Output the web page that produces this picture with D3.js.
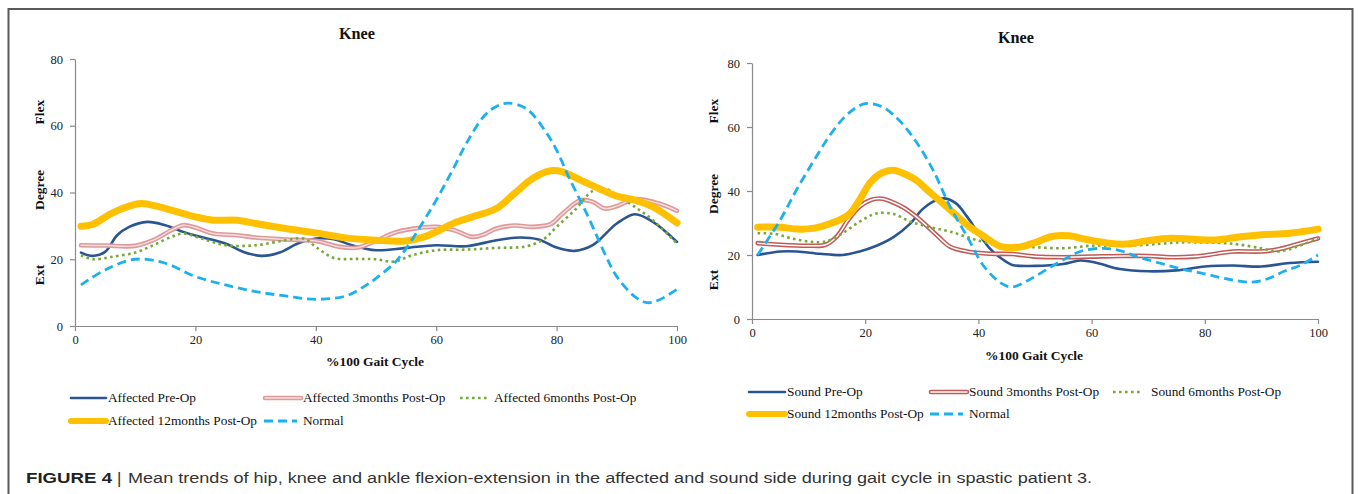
<!DOCTYPE html>
<html>
<head>
<meta charset="utf-8">
<script src="https://cdn.jsdelivr.net/npm/d3@7/dist/d3.min.js"></script>
<style>
  html, body { margin: 0; padding: 0; background: #fff; }
  svg { display: block; }
</style>
</head>
<body>
<svg id="fig" width="1358" height="494"></svg>
<script>
// ---------------- DATA ----------------
const xTicks = [0, 20, 40, 60, 80, 100];
const yTicks = [0, 20, 40, 60, 80];
const chartTitle = "Knee";
const xAxisTitle = "%100 Gait Cycle";
const yAxisWords = ["Flex", "Degree", "Ext"];

// Affected side (left panel): [gait %, degree]
const affectedPreOp = [[1,22],[3,21],[5,22.2],[7,27.2],[9,29.7],[12,31.2],[15,30.2],[18,28.2],[20,27.1],[25,24.7],[28,22.2],[31,21],[34,22],[37,24.7],[40,26.2],[43,26],[46,24.2],[50,22.7],[55,23.4],[60,24.2],[65,23.9],[70,25.7],[74,26.5],[77,25.9],[80,23.5],[83,22.5],[86,24.2],[90,30.7],[93,33.5],[96,31.2],[100,25.2]];
const affected3m = [[1,24.2],[5,24.1],[10,24],[13,25.7],[16,28.7],[18,30.2],[20,29.5],[23,27.7],[27,27.2],[30,26.5],[35,25.9],[40,25.5],[44,23.7],[47,23.5],[50,25.5],[53,27.9],[56,29.1],[60,29.7],[63,28.7],[66,26.7],[68,27.5],[70,29.2],[73,30.1],[76,29.7],[79,30.5],[81,33.7],[84,37.7],[86,37.2],[88,35.2],[90,35.9],[93,38],[97,36.7],[100,34.5]];
const affected6m = [[1,21.2],[3,20],[6,20.7],[10,22],[13,24.2],[16,26.7],[18,27.7],[21,26.2],[25,24.2],[30,24.2],[35,25.7],[38,26.2],[40,23.7],[43,20.4],[47,20.1],[50,20],[53,19.3],[56,21.2],[60,22.7],[65,22.9],[70,23.4],[75,23.9],[78,26.2],[80,29.7],[83,34.7],[86,40.5],[88,41.2],[90,39.2],[93,35.7],[96,31.7],[100,24.7]];
const affected12m = [[1,29.9],[3,30.5],[6,33.7],[9,35.9],[11,36.7],[14,35.7],[17,34.2],[20,32.7],[23,31.7],[27,31.7],[30,30.7],[35,29.2],[40,27.9],[45,26.4],[50,25.7],[55,25.5],[58,26.7],[60,28.2],[63,30.9],[66,32.7],[70,35.2],[73,39.7],[76,44.2],[79,46.5],[81,46.2],[84,43.7],[87,41.2],[90,38.9],[93,37.7],[96,35.7],[100,30.9]];
const affectedNormal = [[1,12.3],[5,16.8],[10,20],[15,18.8],[20,14.8],[25,12.3],[30,10.3],[35,9],[40,8],[45,9],[48,11.8],[50,14.3],[53,18.8],[55,23.2],[58,31.7],[60,37.7],[63,47.7],[65,54.7],[68,63],[70,65.8],[72,66.8],[75,65.1],[78,58.7],[80,52.7],[82,44.7],[85,33.7],[88,21.7],[90,14.8],[93,8.8],[95,7],[97,7.8],[100,11]];

// Sound side (right panel)
const soundPreOp = [[1,20],[5,21.1],[8,21.1],[12,20.4],[16,20],[19,21.1],[22,22.9],[25,25.6],[28,29.9],[30,34.1],[32,36.7],[34,37.7],[36,36.2],[38,32],[40,26.8],[42,22.1],[44,19],[46,16.9],[50,16.6],[55,17.2],[58,18.3],[61,17.5],[65,15.6],[70,14.9],[75,15.2],[80,16.4],[85,16.7],[90,16.4],[95,17.5],[100,17.9]];
const sound3m = [[1,23.7],[5,23.2],[10,22.9],[13,23.2],[15,25.8],[17,31],[19,35.1],[21,37.2],[23,37.6],[25,36.4],[27,34.6],[29,32],[31,28.9],[33,25.6],[35,22.6],[38,21.1],[42,20.4],[46,20.3],[50,19.5],[55,19.3],[60,19.5],[65,19.7],[70,19.7],[74,19.3],[78,19.5],[82,20.4],[85,21.1],[90,21.1],[93,21.8],[96,23.2],[100,25.2]];
const sound6m = [[1,26.8],[4,26.6],[7,25.2],[10,24.2],[13,24.2],[16,26.8],[19,30.4],[22,33],[25,32.8],[28,30.4],[31,28.9],[35,27.3],[40,24.5],[45,22.6],[50,22.4],[55,22.1],[60,22.9],[65,22.9],[70,23.2],[75,23.9],[80,23.9],[85,23.5],[90,22.1],[93,21.1],[96,22.4],[100,25.2]];
const sound12m = [[1,28.7],[5,28.7],[8,28.1],[11,28.4],[14,29.9],[17,32.5],[19,37.2],[21,42.9],[23,45.7],[25,46.5],[27,45.3],[29,43.4],[31,40.3],[33,37.2],[35,34.1],[38,29.4],[41,25.8],[44,22.6],[47,22.4],[50,23.9],[53,25.8],[56,26],[59,24.9],[63,23.7],[66,23.4],[70,24.5],[74,25.2],[78,24.9],[82,24.7],[86,25.6],[90,26.3],[95,26.8],[100,28.1]];
const soundNormal = [[1,20],[5,31],[8,40.8],[11,49.7],[14,58],[17,64.2],[20,67.3],[23,66.3],[26,62.1],[29,55.4],[32,46.5],[35,35.1],[38,25.8],[41,16.4],[44,11.2],[46,10],[49,12.3],[52,15.4],[55,18.5],[58,21.1],[62,22.1],[65,21.4],[68,19.5],[72,17.5],[76,15.6],[80,14.1],[84,12.5],[88,11.5],[91,12.5],[94,14.9],[97,16.9],[100,20]];

const affectedNames = ["Affected Pre-Op", "Affected 3months Post-Op", "Affected 6months Post-Op", "Affected 12months Post-Op", "Normal"];
const soundNames = ["Sound Pre-Op", "Sound 3months Post-Op", "Sound 6months Post-Op", "Sound 12months Post-Op", "Normal"];

const captionBold = "FIGURE 4";
const captionBar = "|";
const captionText = "Mean trends of hip, knee and ankle flexion-extension in the affected and sound side during gait cycle in spastic patient 3.";

// ---------------- STYLES ----------------
const serif = "'Liberation Serif','Times New Roman',Times,serif";
const sans = "'Liberation Sans',Arial,Helvetica,sans-serif";

const svg = d3.select("#fig");

// outer frame
svg.append("rect").attr("x", 8.5).attr("y", 9).attr("width", 1344).attr("height", 500)
  .attr("fill", "none").attr("stroke", "#5a5a5a").attr("stroke-width", 2);

function styleFor(kind, side) {
  switch (kind) {
    case 0: return [{ stroke: "#2a5592", width: 2.6 }];
    case 1: return side === "L"
      ? [{ stroke: "#de9a9a", width: 4.6 }, { stroke: "#f7dede", width: 1.4 }]
      : [{ stroke: "#bf5a56", width: 4.6 }, { stroke: "#ffffff", width: 1.5 }];
    case 2: return [{ stroke: "#77a83a", width: 2.6, dash: "2.6 3.4" }];
    case 3: return [{ stroke: "#ffc000", width: 7 }];
    case 4: return [{ stroke: "#1cb0ee", width: 2.8, dash: "9 5" }];
  }
}

function panel(cfg) {
  const x = d3.scaleLinear().domain([0, 100]).range([cfg.x0, cfg.x1]);
  const y = d3.scaleLinear().domain([0, 80]).range([cfg.y0, cfg.y1]);
  const g = svg.append("g");

  // title
  g.append("text").attr("x", cfg.titleX).attr("y", cfg.titleY)
    .attr("text-anchor", "middle").attr("font-family", serif).attr("font-weight", "bold")
    .attr("font-size", 17).attr("textLength", 36).attr("lengthAdjust", "spacingAndGlyphs")
    .attr("fill", "#111").text(chartTitle);

  // axes
  const xAxis = d3.axisBottom(x).tickValues(xTicks).tickSize(5).tickSizeOuter(0).tickPadding(4);
  const yAxis = d3.axisLeft(y).tickValues(yTicks).tickSize(5).tickSizeOuter(0).tickPadding(7);
  const gx = g.append("g").attr("transform", `translate(0,${cfg.y0})`).call(xAxis);
  const gy = g.append("g").attr("transform", `translate(${cfg.x0},0)`).call(yAxis);
  [gx, gy].forEach(a => {
    a.select(".domain").attr("stroke", "#8a8a8a").attr("stroke-width", 1.2);
    a.selectAll(".tick line").attr("stroke", "#8a8a8a").attr("stroke-width", 1.2);
    a.selectAll(".tick text").attr("font-family", serif).attr("font-size", 12.5).attr("fill", "#222");
  });
  gx.selectAll(".tick text").attr("dy", "0.71em");

  // axis titles
  g.append("text").attr("x", cfg.xtX).attr("y", cfg.xtY).attr("text-anchor", "middle")
    .attr("font-family", serif).attr("font-weight", "bold").attr("font-size", 13.5)
    .attr("fill", "#111").text(xAxisTitle);
  yAxisWords.forEach((w, i) => {
    g.append("text")
      .attr("transform", `translate(${cfg.ytX},${cfg.ytY[i]}) rotate(-90)`)
      .attr("text-anchor", "middle").attr("dy", "0.35em")
      .attr("font-family", serif).attr("font-weight", "bold").attr("font-size", 13.5)
      .attr("fill", "#111").text(w);
  });

  // lines: pre-op, 3m, 6m, 12m, normal
  const line = d3.line().x(d => x(d[0])).y(d => y(d[1])).curve(d3.curveCatmullRom.alpha(0.5));
  [0, 1, 2, 3, 4].forEach(k => {
    styleFor(k, cfg.side).forEach(s => {
      g.append("path").datum(cfg.series[k]).attr("d", line)
        .attr("fill", "none").attr("stroke", s.stroke).attr("stroke-width", s.width)
        .attr("stroke-dasharray", s.dash || null)
        .attr("stroke-linejoin", "round").attr("stroke-linecap", s.dash ? "butt" : "round");
    });
  });

  // legend
  cfg.names.forEach((name, k) => {
    const pos = cfg.legend[k];
    styleFor(k, cfg.side).forEach(s => {
      g.append("line").attr("x1", pos[0]).attr("x2", pos[1]).attr("y1", pos[2]).attr("y2", pos[2])
        .attr("stroke", s.stroke).attr("stroke-width", k === 3 ? 6 : s.width)
        .attr("stroke-dasharray", s.dash || null)
        .attr("stroke-linecap", s.dash ? "butt" : "round");
    });
    g.append("text").attr("x", pos[3]).attr("y", pos[2]).attr("dy", "0.33em")
      .attr("font-family", serif).attr("font-size", 13.3).attr("fill", "#111").text(name);
  });
}

panel({
  side: "L",
  x0: 75, x1: 677, y0: 326, y1: 59,
  titleX: 357, titleY: 39,
  xtX: 375, xtY: 366,
  ytX: 39, ytY: [112, 190, 275],
  series: [affectedPreOp, affected3m, affected6m, affected12m, affectedNormal],
  names: affectedNames,
  legend: [[71, 106, 398, 108], [265, 301, 398, 303], [460, 489, 398, 494], [71, 106, 421, 108], [264, 297, 421, 303]]
});

panel({
  side: "R",
  x0: 752, x1: 1318, y0: 319, y1: 63,
  titleX: 1016, titleY: 43,
  xtX: 1034, xtY: 360,
  ytX: 713, ytY: [111, 194, 280],
  series: [soundPreOp, sound3m, sound6m, sound12m, soundNormal],
  names: soundNames,
  legend: [[749, 785, 392, 787], [931, 967, 392, 969], [1113, 1142, 392, 1151], [749, 785, 414, 787], [930, 963, 414, 969]]
});

// caption
svg.append("text").attr("x", 26).attr("y", 483).attr("font-family", sans).attr("font-weight", "bold")
  .attr("font-size", 15.5).attr("textLength", 86).attr("lengthAdjust", "spacingAndGlyphs")
  .attr("fill", "#222").text(captionBold);
svg.append("text").attr("x", 117).attr("y", 484).attr("font-family", sans)
  .attr("font-size", 17).attr("fill", "#333").text(captionBar);
svg.append("text").attr("x", 128).attr("y", 483).attr("font-family", sans)
  .attr("font-size", 15.5).attr("textLength", 964).attr("lengthAdjust", "spacingAndGlyphs")
  .attr("fill", "#333").text(captionText);
</script>
</body>
</html>
